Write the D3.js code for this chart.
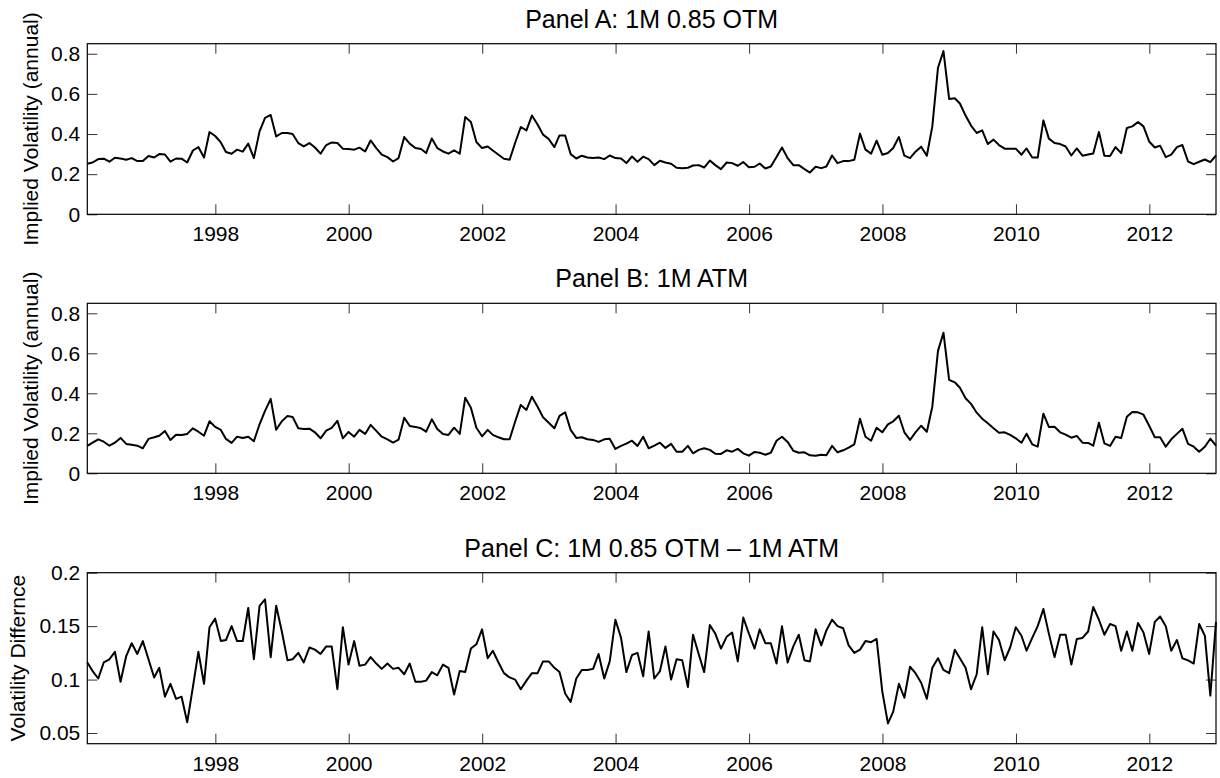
<!DOCTYPE html>
<html>
<head>
<meta charset="utf-8">
<script src="https://cdn.jsdelivr.net/npm/d3@7"></script>
<style>
  body { margin: 0; background: #fff; }
  text { font-family: "Liberation Sans", Arial, Helvetica, sans-serif; fill: #000; }
</style>
</head>
<body>
<div class="chart"></div>
<script>
// monthly observations, end of month, Jan 1996 .. Dec 2012
var startYear = 1996;

var otm = [
  0.252, 0.258, 0.275, 0.277, 0.262, 0.282, 0.278, 0.272, 0.280, 0.265, 0.265, 0.290,
  0.283, 0.300, 0.298, 0.262, 0.278, 0.277, 0.258, 0.318, 0.335, 0.283, 0.410, 0.390,
  0.358, 0.310, 0.302, 0.322, 0.312, 0.352, 0.280, 0.413, 0.480, 0.495, 0.388, 0.405,
  0.405, 0.400, 0.355, 0.338, 0.355, 0.333, 0.302, 0.345, 0.358, 0.355, 0.327, 0.325,
  0.322, 0.332, 0.313, 0.368, 0.330, 0.297, 0.285, 0.263, 0.280, 0.385, 0.352, 0.330,
  0.325, 0.305, 0.378, 0.330, 0.313, 0.302, 0.318, 0.302, 0.485, 0.460, 0.360, 0.330,
  0.338, 0.318, 0.297, 0.277, 0.272, 0.355, 0.435, 0.418, 0.492, 0.447, 0.397, 0.375,
  0.335, 0.393, 0.393, 0.300, 0.278, 0.292, 0.283, 0.280, 0.283, 0.275, 0.293, 0.280,
  0.278, 0.255, 0.288, 0.262, 0.287, 0.275, 0.245, 0.267, 0.258, 0.252, 0.232, 0.230,
  0.232, 0.243, 0.245, 0.233, 0.268, 0.245, 0.225, 0.258, 0.255, 0.242, 0.260, 0.235,
  0.237, 0.253, 0.228, 0.238, 0.285, 0.333, 0.280, 0.245, 0.245, 0.225, 0.208, 0.237,
  0.230, 0.238, 0.293, 0.255, 0.265, 0.265, 0.272, 0.402, 0.322, 0.302, 0.367, 0.297,
  0.305, 0.330, 0.385, 0.292, 0.280, 0.312, 0.337, 0.292, 0.438, 0.730, 0.813, 0.575,
  0.578, 0.552, 0.492, 0.442, 0.405, 0.418, 0.350, 0.372, 0.345, 0.327, 0.327, 0.327,
  0.297, 0.328, 0.283, 0.283, 0.468, 0.377, 0.355, 0.350, 0.338, 0.293, 0.328, 0.292,
  0.298, 0.303, 0.410, 0.292, 0.290, 0.335, 0.305, 0.430, 0.438, 0.460, 0.438, 0.363,
  0.333, 0.342, 0.285, 0.297, 0.335, 0.345, 0.263, 0.250, 0.262, 0.273, 0.260, 0.293
];

var atm = [
  0.137, 0.153, 0.170, 0.158, 0.138, 0.153, 0.177, 0.147, 0.143, 0.138, 0.125, 0.172,
  0.180, 0.188, 0.212, 0.167, 0.193, 0.192, 0.197, 0.225, 0.208, 0.188, 0.260, 0.232,
  0.217, 0.172, 0.152, 0.183, 0.177, 0.183, 0.160, 0.245, 0.312, 0.372, 0.218, 0.260,
  0.287, 0.282, 0.225, 0.222, 0.223, 0.205, 0.175, 0.213, 0.227, 0.262, 0.175, 0.207,
  0.183, 0.217, 0.197, 0.242, 0.212, 0.183, 0.170, 0.153, 0.168, 0.278, 0.237, 0.232,
  0.225, 0.208, 0.270, 0.222, 0.197, 0.192, 0.228, 0.197, 0.378, 0.328, 0.228, 0.185,
  0.217, 0.192, 0.180, 0.170, 0.170, 0.258, 0.342, 0.317, 0.383, 0.333, 0.280, 0.253,
  0.225, 0.287, 0.305, 0.217, 0.177, 0.180, 0.170, 0.167, 0.157, 0.170, 0.173, 0.122,
  0.137, 0.148, 0.163, 0.137, 0.183, 0.125, 0.138, 0.153, 0.127, 0.147, 0.108, 0.108,
  0.137, 0.100, 0.117, 0.125, 0.117, 0.098, 0.097, 0.115, 0.108, 0.122, 0.100, 0.088,
  0.107, 0.103, 0.093, 0.103, 0.163, 0.183, 0.157, 0.113, 0.103, 0.105, 0.090, 0.088,
  0.093, 0.090, 0.137, 0.105, 0.115, 0.128, 0.145, 0.273, 0.183, 0.163, 0.228, 0.205,
  0.245, 0.260, 0.288, 0.205, 0.167, 0.205, 0.238, 0.208, 0.333, 0.612, 0.703, 0.467,
  0.455, 0.428, 0.375, 0.347, 0.303, 0.273, 0.250, 0.225, 0.203, 0.205, 0.192, 0.175,
  0.153, 0.198, 0.145, 0.133, 0.298, 0.232, 0.233, 0.205, 0.193, 0.178, 0.187, 0.153,
  0.152, 0.138, 0.253, 0.150, 0.137, 0.183, 0.177, 0.283, 0.307, 0.305, 0.293, 0.238,
  0.180, 0.180, 0.133, 0.170, 0.197, 0.223, 0.147, 0.133, 0.108, 0.133, 0.173, 0.138
];

var diff = [
  0.116, 0.108, 0.101, 0.116, 0.119, 0.126, 0.098, 0.122, 0.134, 0.124, 0.136, 0.119,
  0.102, 0.111, 0.084, 0.096, 0.082, 0.084, 0.060, 0.093, 0.126, 0.096, 0.149, 0.157,
  0.136, 0.137, 0.150, 0.136, 0.136, 0.167, 0.119, 0.169, 0.175, 0.121, 0.169, 0.145,
  0.118, 0.119, 0.125, 0.116, 0.130, 0.128, 0.124, 0.131, 0.131, 0.091, 0.149, 0.114,
  0.136, 0.113, 0.114, 0.121, 0.115, 0.110, 0.115, 0.110, 0.111, 0.105, 0.115, 0.098,
  0.098, 0.099, 0.107, 0.104, 0.114, 0.111, 0.086, 0.108, 0.107, 0.129, 0.133, 0.147,
  0.120, 0.127, 0.116, 0.106, 0.102, 0.100, 0.091, 0.099, 0.106, 0.106, 0.117, 0.117,
  0.111, 0.107, 0.087, 0.079, 0.101, 0.109, 0.109, 0.110, 0.124, 0.101, 0.117, 0.156,
  0.139, 0.107, 0.123, 0.125, 0.103, 0.145, 0.101, 0.108, 0.131, 0.100, 0.119, 0.118,
  0.093, 0.142, 0.124, 0.107, 0.151, 0.143, 0.129, 0.140, 0.144, 0.117, 0.158, 0.143,
  0.129, 0.147, 0.134, 0.134, 0.115, 0.150, 0.116, 0.131, 0.142, 0.118, 0.117, 0.147,
  0.132, 0.146, 0.156, 0.150, 0.148, 0.132, 0.125, 0.128, 0.136, 0.135, 0.138, 0.089,
  0.059, 0.070, 0.096, 0.083, 0.112, 0.106, 0.097, 0.082, 0.111, 0.120, 0.109, 0.106,
  0.128, 0.120, 0.111, 0.091, 0.105, 0.149, 0.105, 0.145, 0.137, 0.118, 0.130, 0.149,
  0.141, 0.127, 0.139, 0.150, 0.166, 0.143, 0.121, 0.142, 0.142, 0.114, 0.138, 0.139,
  0.145, 0.168, 0.156, 0.142, 0.152, 0.150, 0.127, 0.145, 0.127, 0.153, 0.144, 0.124,
  0.154, 0.159, 0.150, 0.127, 0.137, 0.120, 0.118, 0.115, 0.152, 0.141, 0.085, 0.154
];

var xTickYears = [1998, 2000, 2002, 2004, 2006, 2008, 2010, 2012];
var volTicks = [0, 0.2, 0.4, 0.6, 0.8];
var diffTicks = [0.05, 0.1, 0.15, 0.2];

var titles = ["Panel A: 1M 0.85 OTM", "Panel B: 1M ATM", "Panel C: 1M 0.85 OTM \u2013 1M ATM"];
var yLabels = ["Implied Volatility (annual)", "Implied Volatility (annual)", "Volatility Differnce"];

var svgWidth = 1220, svgHeight = 778;
var left = 87.3, right = 1216;
var width = right - left;

var panels = [
  { values: otm,  top: 43.7,  bottom: 214.3, domain: [0, 0.85],   ticks: volTicks,  labelX: 38 },
  { values: atm,  top: 303.3, bottom: 473.3, domain: [0, 0.85],   ticks: volTicks,  labelX: 38 },
  { values: diff, top: 572.7, bottom: 743.7, domain: [0.04, 0.2], ticks: diffTicks, labelX: 25 }
];

var svg = d3.select(".chart").append("svg")
  .attr("width", svgWidth)
  .attr("height", svgHeight);

// month end dates
function monthEnd(i) {
  return new Date(startYear, i + 1, 0);
}

var x = d3.scaleTime()
  .domain([monthEnd(0), monthEnd(otm.length - 1)])
  .range([0, width]);

var xTicks = xTickYears.map(y => new Date(y, 0, 1));

panels.forEach(function(p, k) {
  var height = p.bottom - p.top;
  var g = svg.append("g").attr("transform", `translate(${left}, ${p.top})`);

  var y = d3.scaleLinear().domain(p.domain).range([height, 0]);

  // ticks point inward on all four sides
  var axes = [
    { ax: d3.axisBottom(x).tickValues(xTicks).tickFormat(d3.timeFormat("%Y")).tickPadding(12), t: `translate(0,${height})` },
    { ax: d3.axisTop(x).tickValues(xTicks).tickFormat(""), t: "translate(0,0)" },
    { ax: d3.axisLeft(y).tickValues(p.ticks).tickFormat(d => String(d)).tickPadding(7), t: "translate(0,0)" },
    { ax: d3.axisRight(y).tickValues(p.ticks).tickFormat(""), t: `translate(${width},0)` }
  ];
  axes.forEach(function(a) {
    var ag = g.append("g")
      .attr("transform", a.t)
      .call(a.ax.tickSizeInner(-10).tickSizeOuter(0));
    ag.select(".domain").remove();
    ag.selectAll("line").attr("stroke", "#333").attr("stroke-width", 1);
    ag.selectAll("text").attr("font-size", 21).attr("font-family", null).attr("fill", "#000");
  });

  var line = d3.line()
    .x((d, i) => x(monthEnd(i)))
    .y(d => y(d));

  g.append("path")
    .datum(p.values)
    .attr("d", line)
    .attr("fill", "none")
    .attr("stroke", "#000")
    .attr("stroke-width", 2)
    .attr("stroke-linejoin", "round");

  g.append("rect")
    .attr("width", width)
    .attr("height", height)
    .attr("fill", "none")
    .attr("stroke", "#000")
    .attr("stroke-width", 1.2);

  g.append("text")
    .attr("x", width / 2)
    .attr("y", -16)
    .attr("text-anchor", "middle")
    .attr("font-size", 25)
    .text(titles[k]);

  svg.append("text")
    .attr("transform", `translate(${p.labelX}, ${p.top + height / 2}) rotate(-90)`)
    .attr("text-anchor", "middle")
    .attr("font-size", 21)
    .text(yLabels[k]);
});
</script>
</body>
</html>
